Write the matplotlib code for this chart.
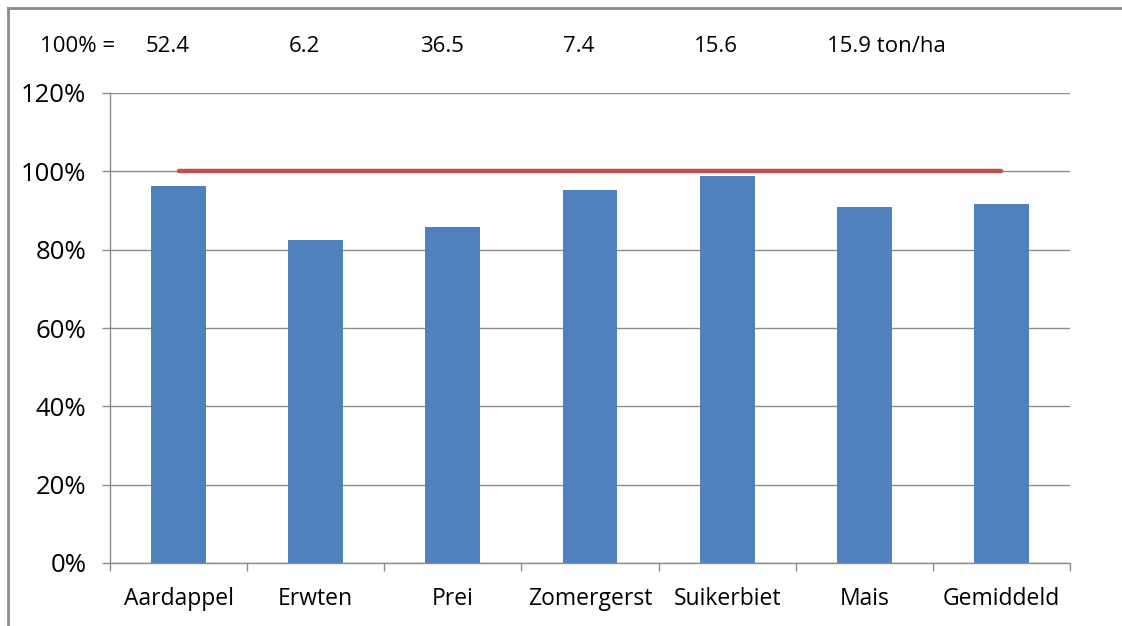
import matplotlib.pyplot as plt
from matplotlib.lines import Line2D
from matplotlib.ticker import FuncFormatter, FixedLocator
import numpy as np

# --- Data ---
crops = ['Aardappel', 'Erwten', 'Prei', 'Zomergerst', 'Suikerbiet', 'Mais', 'Gemiddeld']
relative_yield = [96.2, 82.5, 85.8, 95.2, 98.8, 90.9, 91.7]   # percent
reference = [100, 100, 100, 100, 100, 100, 100]
base_yield = ['52.4', '6.2', '36.5', '7.4', '15.6', '15.9']       # ton/ha = 100%

plt.rcParams['font.family'] = ['Open Sans', 'DejaVu Sans']

fig = plt.figure(figsize=(11.22, 6.26), dpi=100)
ax = fig.add_axes([110 / 1122, 1 - 563 / 626, 960 / 1122, 470 / 626])

x = np.arange(len(crops))
grid_col = '#8c8c8c'

ax.bar(x, relative_yield, width=0.4, color='#4f81bd', zorder=2)
ax.plot(x, reference, color='#c0504d', linewidth=3.2, solid_capstyle='round', zorder=3)

ax.set_xlim(-0.5, len(crops) - 0.5)
ax.set_ylim(0, 120)
ax.set_yticks(np.arange(0, 121, 20))
ax.yaxis.set_major_formatter(FuncFormatter(lambda v, p: f'{v:.0f}%'))
ax.yaxis.grid(True, color=grid_col, linewidth=1)
ax.set_axisbelow(True)

ax.set_xticks(x)
ax.set_xticklabels(crops)
ax.tick_params(axis='x', length=0, pad=17, labelsize=16.5, colors='black')
ax.xaxis.set_minor_locator(FixedLocator(np.arange(-0.5, len(crops), 1.0)))
ax.tick_params(axis='x', which='minor', length=6, color=grid_col, width=1)
ax.tick_params(axis='y', length=6, color=grid_col, width=1, labelsize=18.5, pad=11)

for side in ['top', 'right']:
    ax.spines[side].set_visible(False)
for side in ['left', 'bottom']:
    ax.spines[side].set_color(grid_col)
    ax.spines[side].set_linewidth(1)

# "100% =" header row with the base yields
fig.text(40 / 1122, 1 - 47 / 626, '100% =', fontsize=16, va='center', ha='left')
trans = ax.get_xaxis_transform()
yhead = (563 - 47) / 470
for i, val in enumerate(base_yield):
    if i < len(base_yield) - 1:
        ax.text(i - 0.08, yhead, val, transform=trans, fontsize=16, ha='center', va='center')
    else:
        ax.text(i - 0.27, yhead, val + ' ton/ha', transform=trans, fontsize=16, ha='left', va='center')

# frame of the original picture (left and top edges)
fig.add_artist(Line2D([8 / 1122, 8 / 1122], [0, 1 - 8 / 626], color='#8a8a8a', linewidth=2,
                      transform=fig.transFigure))
fig.add_artist(Line2D([8 / 1122, 1], [1 - 8 / 626, 1 - 8 / 626], color='#8a8a8a', linewidth=2,
                      transform=fig.transFigure))

fig.savefig('out.png', dpi=100)
